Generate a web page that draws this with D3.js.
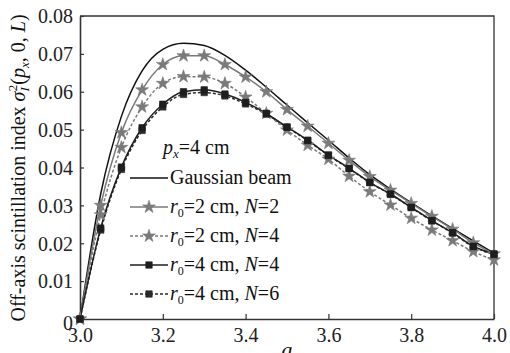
<!DOCTYPE html>
<html>
<head>
<meta charset="utf-8">
<script src="https://cdn.jsdelivr.net/npm/d3@7"></script>
<style>
  html, body { margin: 0; padding: 0; background: #fff; }
  svg { display: block; }
</style>
</head>
<body>
<svg id="chart" width="510" height="353"></svg>
<script>
// Off-axis scintillation index versus a, p_x = 4 cm
const aValues = [3.00, 3.05, 3.10, 3.15, 3.20, 3.25, 3.30, 3.35, 3.40, 3.45, 3.50,
                 3.55, 3.60, 3.65, 3.70, 3.75, 3.80, 3.85, 3.90, 3.95, 4.00];

const gaussian = [0, 0.0330, 0.0535, 0.0655, 0.0712, 0.0728, 0.0722, 0.0696, 0.0657, 0.0612, 0.0565,
                  0.0518, 0.0472, 0.0425, 0.0381, 0.0343, 0.0307, 0.0272, 0.0239, 0.0206, 0.0174];
const r2N2 = [0, 0.0300, 0.0492, 0.0605, 0.0672, 0.0695, 0.0695, 0.0672, 0.0639, 0.0600, 0.0553,
              0.0509, 0.0464, 0.0419, 0.0376, 0.0340, 0.0305, 0.0271, 0.0237, 0.0201, 0.0172];
const r2N4 = [0, 0.0275, 0.0453, 0.0560, 0.0622, 0.0640, 0.0639, 0.0622, 0.0586, 0.0543, 0.0499,
              0.0459, 0.0422, 0.0377, 0.0336, 0.0301, 0.0266, 0.0235, 0.0207, 0.0178, 0.0156];
const r4N4 = [0, 0.0240, 0.0401, 0.0505, 0.0567, 0.0600, 0.0605, 0.0594, 0.0572, 0.0543, 0.0507,
              0.0472, 0.0433, 0.0398, 0.0361, 0.0330, 0.0295, 0.0260, 0.0228, 0.0192, 0.0172];
const r4N6 = [0, 0.0235, 0.0395, 0.0498, 0.0560, 0.0593, 0.0598, 0.0589, 0.0568, 0.0541, 0.0506,
              0.0471, 0.0432, 0.0397, 0.0360, 0.0329, 0.0294, 0.0259, 0.0227, 0.0191, 0.0170];

const xTicks = [3.0, 3.2, 3.4, 3.6, 3.8, 4.0];
const yTicks = [0, 0.01, 0.02, 0.03, 0.04, 0.05, 0.06, 0.07, 0.08];

const series = [
  { key: "gauss", values: gaussian, color: "#111", dash: null, marker: null, r0: null, N: null },
  { key: "r2N2", values: r2N2, color: "#7a7a7a", dash: null, marker: "star", r0: 2, N: 2 },
  { key: "r2N4", values: r2N4, color: "#7a7a7a", dash: "3,2", marker: "star", r0: 2, N: 4 },
  { key: "r4N6", values: r4N6, color: "#2a2a2a", dash: "3,2", marker: "square", r0: 4, N: 6 },
  { key: "r4N4", values: r4N4, color: "#1e1e1e", dash: null, marker: "square", r0: 4, N: 4 }
];
const legendOrder = ["gauss", "r2N2", "r2N4", "r4N4", "r4N6"];

const serif = "'Liberation Serif'";
const svg = d3.select("#chart");
const margin = { left: 80, right: 16, top: 16, bottom: 34 };
const W = 510, H = 353;
const x = d3.scaleLinear().domain([3.0, 4.0]).range([margin.left, W - margin.right]);
const y = d3.scaleLinear().domain([0, 0.08]).range([H - margin.bottom, margin.top]);

const axisColor = "#333";

// frame (top and right)
svg.append("path")
  .attr("d", `M${x(3.0)},${y(0.08)}H${x(4.0)}V${y(0)}`)
  .attr("fill", "none").attr("stroke", axisColor).attr("stroke-width", 1.3);

// axes with inward ticks
const xAxis = svg.append("g").attr("transform", `translate(0,${y(0)})`)
  .call(d3.axisBottom(x).tickValues(xTicks).tickSizeInner(-5).tickSizeOuter(0)
        .tickFormat(d3.format(".1f")));
xAxis.select(".domain").attr("stroke", axisColor).attr("stroke-width", 1.6);
xAxis.selectAll(".tick line").attr("stroke", axisColor).attr("stroke-width", 1.2);
xAxis.selectAll(".tick text").attr("font-size", 20).attr("fill", "#222")
  .attr("y", 23).attr("dy", 0);

const yAxis = svg.append("g").attr("transform", `translate(${x(3.0)},0)`)
  .call(d3.axisLeft(y).tickValues(yTicks).tickSizeInner(-4).tickSizeOuter(0)
        .tickFormat(d => d === 0 ? "0" : d3.format(".2f")(d)));
yAxis.select(".domain").attr("stroke", axisColor).attr("stroke-width", 1.6);
yAxis.selectAll(".tick line").attr("stroke", axisColor).attr("stroke-width", 1.2);
yAxis.selectAll(".tick text").attr("font-size", 20).attr("fill", "#222")
  .attr("x", -7).attr("dy", "0.34em");
yAxis.selectAll(".tick").filter(d => d === 0).select("text").attr("dy", "0.5em");

// curves
const line = d3.line()
  .x((d, i) => x(aValues[i]))
  .y(d => y(d))
  .curve(d3.curveMonotoneX);

const starPath = d3.symbol().type(d3.symbolStar).size(52)();
const squarePath = d3.symbol().type(d3.symbolSquare).size(42)();

const plot = svg.append("g");
series.forEach(s => {
  plot.append("path")
    .attr("d", line(s.values))
    .attr("fill", "none")
    .attr("stroke", s.color)
    .attr("stroke-width", 1.5)
    .attr("stroke-dasharray", s.dash);
});
series.forEach(s => {
  if (!s.marker) return;
  plot.selectAll(null).data(s.values).enter().append("path")
    .attr("d", s.marker === "star" ? starPath : squarePath)
    .attr("transform", (d, i) => `translate(${x(aValues[i])},${y(d)})`)
    .attr("fill", s.color)
    .attr("stroke", s.color)
    .attr("stroke-width", 0.6);
});

// legend
const lg = svg.append("g");
const lx0 = 130, lx1 = 168, tx = 170;
const ptxt = lg.append("text").attr("x", 163).attr("y", 154).attr("font-size", 20).attr("fill", "#111");
ptxt.append("tspan").attr("font-style", "italic").text("p");
ptxt.append("tspan").attr("font-style", "italic").attr("font-size", 13).attr("dy", 4).text("x");
ptxt.append("tspan").attr("dy", -4).text("=4 cm");

legendOrder.forEach((k, i) => {
  const s = series.find(d => d.key === k);
  const cy = 178 + i * 29;
  lg.append("line").attr("x1", lx0).attr("x2", lx1).attr("y1", cy).attr("y2", cy)
    .attr("stroke", s.color).attr("stroke-width", 1.5).attr("stroke-dasharray", s.dash);
  if (s.marker) {
    lg.append("path").attr("d", s.marker === "star" ? starPath : squarePath)
      .attr("transform", `translate(${(lx0 + lx1) / 2},${cy})`)
      .attr("fill", s.color).attr("stroke", s.color).attr("stroke-width", 0.6);
  }
  const t = lg.append("text").attr("x", tx).attr("y", cy + 6).attr("font-size", 20).attr("fill", "#111");
  if (!s.marker) {
    t.text("Gaussian beam");
  } else {
    t.append("tspan").attr("font-style", "italic").text("r");
    t.append("tspan").attr("font-size", 12).attr("dy", 4).text("0");
    t.append("tspan").attr("dy", -4).text(`=${s.r0} cm, `);
    t.append("tspan").attr("font-style", "italic").text("N");
    t.append("tspan").text(`=${s.N}`);
  }
});

// axis titles
const yl = svg.append("text")
  .attr("transform", "translate(25,168) rotate(-90)")
  .attr("text-anchor", "middle").attr("font-size", 20).attr("fill", "#111");
yl.append("tspan").text("Off-axis scintillation index ");
yl.append("tspan").attr("font-style", "italic").text("σ");
yl.append("tspan").attr("font-style", "italic").attr("font-size", 13).attr("dy", 4).text("I");
yl.append("tspan").attr("font-size", 13).attr("dx", -4).attr("dy", -12).text("2");
yl.append("tspan").attr("dy", 8).text("(");
yl.append("tspan").attr("font-style", "italic").text("p");
yl.append("tspan").attr("font-style", "italic").attr("font-size", 13).attr("dy", 4).text("x");
yl.append("tspan").attr("dy", -4).text(", 0, ");
yl.append("tspan").attr("font-style", "italic").text("L");
yl.append("tspan").text(")");

svg.append("text").attr("x", x(3.5)).attr("y", 357).attr("text-anchor", "middle")
  .attr("font-size", 22).attr("font-style", "italic").attr("fill", "#111").text("a");

// serif face on every text element
svg.selectAll("text").attr("font-family", serif);
</script>
</body>
</html>
